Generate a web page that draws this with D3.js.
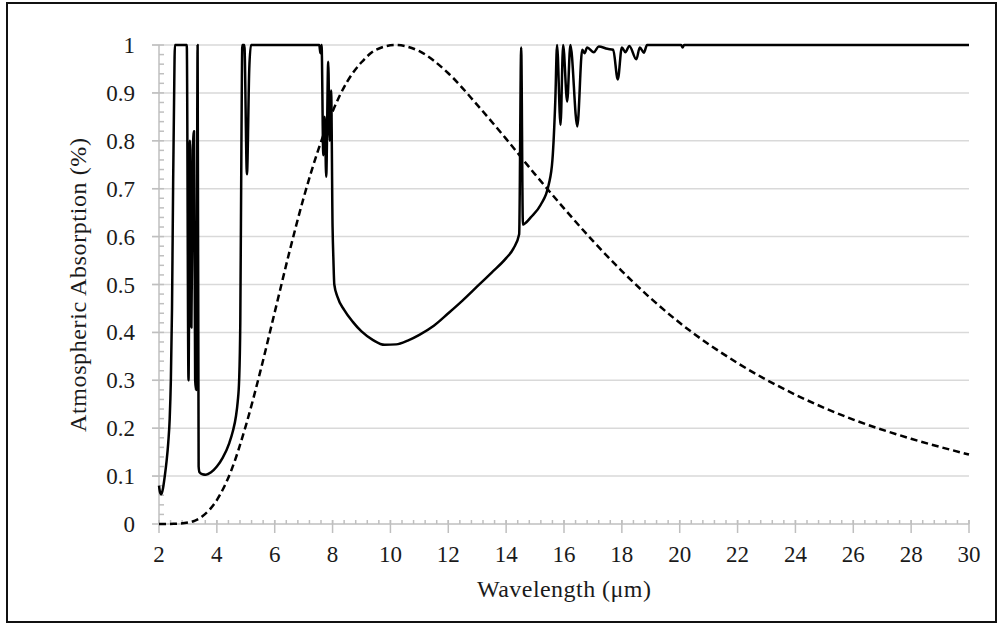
<!DOCTYPE html>
<html>
<head>
<meta charset="utf-8">
<script src="https://cdn.jsdelivr.net/npm/d3@7"></script>
<style>
  body { margin: 0; background: #fff; }
  svg { display: block; }
  text { font-family: "Liberation Serif", "DejaVu Serif", serif; fill: #1a1a1a; }
</style>
</head>
<body>
<svg id="chart" width="1001" height="625"></svg>
<script>
"use strict";

// atmospheric absorption (solid line)
const absWave = [
  2.00, 2.04, 2.08, 2.14, 2.20, 2.26, 2.32, 2.37, 2.41, 2.45, 2.49, 2.52, 2.55,
  2.96, 3.02, 3.07, 3.12, 3.17, 3.21, 3.25, 3.28, 3.31, 3.335, 3.37,
  3.40, 3.50, 3.62, 3.80, 4.00, 4.20, 4.43, 4.55, 4.66, 4.72, 4.77, 4.81, 4.85, 4.88,
  4.95, 5.04, 5.12, 5.18,
  7.54, 7.58, 7.62, 7.68, 7.73, 7.78, 7.85, 7.90, 7.95, 8.00, 8.03, 8.06, 8.17, 8.40,
  8.70, 9.00, 9.40, 9.80, 10.2, 10.6, 11.0, 11.5, 12.0, 12.5, 13.0, 13.5, 14.0, 14.25, 14.45,
  14.52, 14.58, 14.70, 14.85, 15.19, 15.47, 15.60, 15.70, 15.76,
  15.88, 15.97, 16.11, 16.22, 16.46, 16.63, 16.71, 16.80, 17.03, 17.20, 17.50, 17.70,
  17.86, 18.00, 18.12, 18.26, 18.50, 18.62, 18.76, 18.87,
  20.05, 20.10, 20.15, 30.0
];
const absValue = [
  0.080, 0.065, 0.062, 0.075, 0.100, 0.130, 0.170, 0.220, 0.300, 0.450, 0.720, 0.880, 1.000,
  1.000, 0.300, 0.800, 0.410, 0.780, 0.820, 0.300, 0.280, 0.600, 1.000, 0.120,
  0.108, 0.104, 0.103, 0.108, 0.120, 0.138, 0.169, 0.193, 0.225, 0.255, 0.300, 0.420, 0.800, 1.000,
  1.000, 0.730, 0.950, 1.000,
  1.000, 0.983, 1.000, 0.770, 0.850, 0.725, 0.965, 0.800, 0.905, 0.620, 0.550, 0.500, 0.474, 0.447,
  0.422, 0.402, 0.384, 0.374, 0.375, 0.383, 0.395, 0.414, 0.440, 0.467, 0.496, 0.525, 0.555, 0.575, 0.605,
  0.995, 0.625, 0.630, 0.640, 0.666, 0.708, 0.760, 0.885, 1.000,
  0.833, 1.000, 0.882, 1.000, 0.830, 0.990, 0.983, 0.995, 0.985, 0.997, 0.992, 0.990,
  0.928, 0.995, 0.985, 0.998, 0.970, 0.995, 0.984, 1.000,
  1.000, 0.995, 1.000, 1.000
];

// normalised emission (dashed line)
const emitWave = [
  2.0, 2.5, 3.0, 3.5, 4.0, 4.5, 5.0, 5.5, 6.0, 6.5, 7.0, 7.5, 8.0, 8.5, 9.0, 9.5,
  10.17, 11, 12, 13, 14, 15, 16, 17, 18, 19, 20, 22, 24, 26, 28, 30
];
const emitValue = [
  0.000, 0.0003, 0.003, 0.016, 0.050, 0.112, 0.205, 0.318, 0.442, 0.566, 0.681, 0.780,
  0.861, 0.923, 0.964, 0.990, 1.000, 0.987, 0.941, 0.875, 0.804, 0.730, 0.659, 0.591,
  0.528, 0.471, 0.420, 0.336, 0.270, 0.218, 0.178, 0.145
];

const xTicks = d3.range(2, 31, 2);
const yTicks = d3.range(0, 11).map((i) => i / 10);

const svg = d3.select("#chart");

const plotLeft = 159, plotRight = 969, plotTop = 45, plotBottom = 524;
const x = d3.scaleLinear().domain([2, 30]).range([plotLeft, plotRight]);
const y = d3.scaleLinear().domain([0, 1]).range([plotBottom, plotTop]);

const gridColor = "#d9d9d9";
const axisColor = "#bfbfbf";

// outer frame
svg.append("rect")
  .attr("x", 7).attr("y", 3)
  .attr("width", 989).attr("height", 619)
  .attr("fill", "none")
  .attr("stroke", "#111")
  .attr("stroke-width", 2);

// horizontal gridlines
svg.append("g")
  .selectAll("line")
  .data(yTicks.filter((d) => d > 0))
  .enter()
  .append("line")
  .attr("x1", plotLeft - 7).attr("x2", plotRight)
  .attr("y1", (d) => y(d)).attr("y2", (d) => y(d))
  .attr("stroke", gridColor)
  .attr("stroke-width", 1.5);

// y axis: line, major ticks going left, minor ticks inside
const yAxis = svg.append("g").attr("stroke", axisColor).attr("stroke-width", 1.5);
yAxis.append("line")
  .attr("x1", plotLeft).attr("x2", plotLeft)
  .attr("y1", y(0)).attr("y2", y(1));
yAxis.selectAll(".major")
  .data(yTicks)
  .enter()
  .append("line")
  .attr("x1", plotLeft - 7).attr("x2", plotLeft)
  .attr("y1", (d) => y(d)).attr("y2", (d) => y(d));
yAxis.selectAll(".minor")
  .data(d3.range(0, 51).map((i) => i / 50))
  .enter()
  .append("line")
  .attr("x1", plotLeft).attr("x2", plotLeft + 5)
  .attr("y1", (d) => y(d)).attr("y2", (d) => y(d));

// x axis: line, major ticks crossing, minor ticks inside
const xAxis = svg.append("g").attr("stroke", axisColor).attr("stroke-width", 1.5);
xAxis.append("line")
  .attr("x1", x(2)).attr("x2", x(30))
  .attr("y1", plotBottom).attr("y2", plotBottom);
xAxis.selectAll(".minor")
  .data(d3.range(0, 71).map((i) => 2 + i * 0.4))
  .enter()
  .append("line")
  .attr("x1", (d) => x(d)).attr("x2", (d) => x(d))
  .attr("y1", plotBottom - 4).attr("y2", plotBottom);
xAxis.selectAll(".major")
  .data(xTicks)
  .enter()
  .append("line")
  .attr("x1", (d) => x(d)).attr("x2", (d) => x(d))
  .attr("y1", plotBottom - 4).attr("y2", plotBottom + 9);

// tick labels
svg.append("g")
  .selectAll("text")
  .data(yTicks)
  .enter()
  .append("text")
  .attr("x", 135)
  .attr("y", (d) => y(d))
  .attr("dy", "0.35em")
  .attr("text-anchor", "end")
  .attr("font-size", 23)
  .text((d) => (d === 0 || d === 1 ? d3.format("d")(d) : d3.format(".1f")(d)));

svg.append("g")
  .selectAll("text")
  .data(xTicks)
  .enter()
  .append("text")
  .attr("x", (d) => x(d))
  .attr("y", 562)
  .attr("text-anchor", "middle")
  .attr("font-size", 23)
  .text((d) => d);

// axis titles
svg.append("text")
  .attr("x", 564).attr("y", 597)
  .attr("text-anchor", "middle")
  .attr("font-size", 24)
  .attr("textLength", 174)
  .text("Wavelength (μm)");

svg.append("text")
  .attr("transform", "translate(86, 285) rotate(-90)")
  .attr("text-anchor", "middle")
  .attr("font-size", 24)
  .attr("textLength", 294)
  .text("Atmospheric Absorption (%)");

// curves
const absData = absWave.map((w, i) => ({ w: w, v: absValue[i] }));
const emitData = emitWave.map((w, i) => ({ w: w, v: emitValue[i] }));

const line = d3.line()
  .x((d) => x(d.w))
  .y((d) => y(d.v))
  .curve(d3.curveMonotoneX);

svg.append("path")
  .datum(emitData)
  .attr("d", line)
  .attr("fill", "none")
  .attr("stroke", "#000")
  .attr("stroke-width", 2.5)
  .attr("stroke-dasharray", "7,4");

svg.append("path")
  .datum(absData)
  .attr("d", line)
  .attr("fill", "none")
  .attr("stroke", "#000")
  .attr("stroke-width", 2.5)
  .attr("stroke-linejoin", "round");
</script>
</body>
</html>
